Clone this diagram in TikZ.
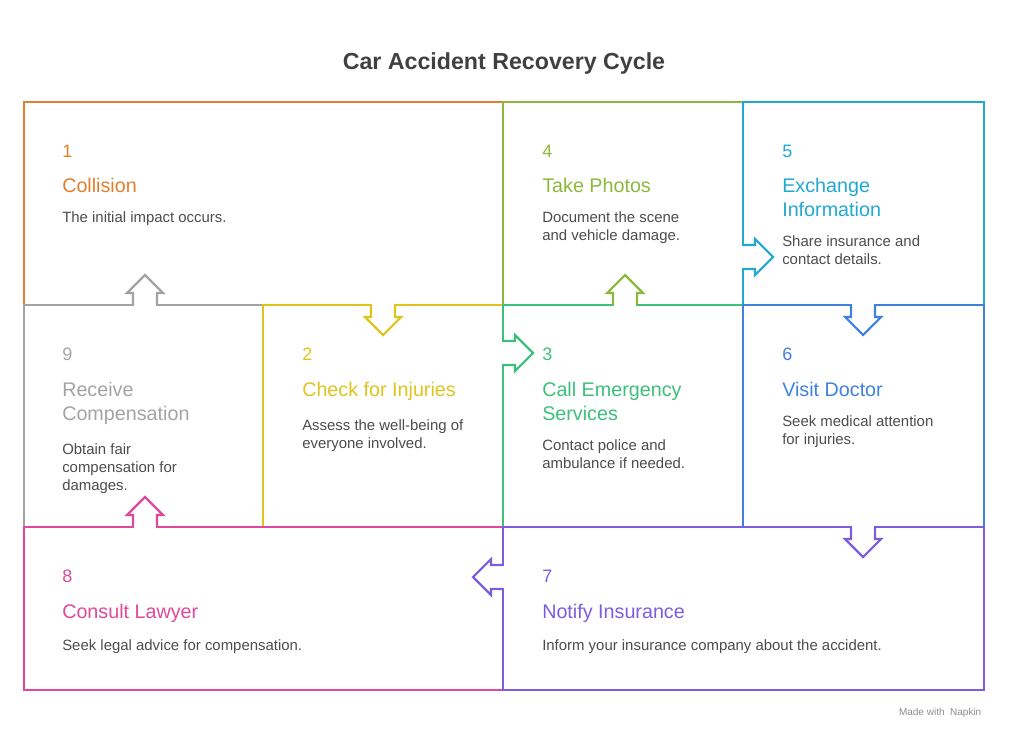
\documentclass[tikz,border=0pt]{standalone}
\usepackage{fontspec}
\setmainfont{Liberation Sans}
\usepackage{xcolor}
\usetikzlibrary{positioning}

\definecolor{cOrange}{HTML}{E0802E}
\definecolor{cOlive}{HTML}{8CB83C}
\definecolor{cCyan}{HTML}{22A8D2}
\definecolor{cGray}{HTML}{A3A3A3}
\definecolor{cYellow}{HTML}{DEC41E}
\definecolor{cGreen}{HTML}{3CC07C}
\definecolor{cBlue}{HTML}{3F80E0}
\definecolor{cPink}{HTML}{E0489C}
\definecolor{cPurple}{HTML}{7D5CE0}

\tikzset{
  box/.style={line width=1.6pt},
  num/.style={anchor=base west, inner sep=0pt, font=\fontsize{13.5}{16}\selectfont},
  head/.style={anchor=north west, inner sep=0pt, align=left, font=\fontsize{14.8}{18}\selectfont},
  body/.style={inner sep=0pt, align=left, text=black!70, font=\fontsize{11.2}{13.5}\selectfont},
}

% notch arrow sitting on a box edge
\newcommand{\notch}[3]{%
  \begin{scope}[shift={#2}, rotate=#3]
    \draw[white, line width=2.4pt] (0,-11) -- (0,11);
    \draw[#1, line width=1.6pt, line join=miter]
      (0,-12) -- (12,-12) -- (12,-18) -- (30,0) -- (12,18) -- (12,12) -- (0,12);
  \end{scope}}

\begin{document}
\begin{tikzpicture}[x=0.75pt, y=-0.75pt]
\useasboundingbox (0,0) rectangle (1009,738);

\node[font=\bfseries\fontsize{17.4}{20}\selectfont, text=black!75] (title) at (504,64) {Car Accident Recovery Cycle};

% boxes
\draw[box, cOrange] (24,102) rectangle (503,305);
\draw[box, cOlive] (503,102) rectangle (743,305);
\draw[box, cCyan] (743,102) rectangle (984,305);
\draw[box, cGray] (24,305) rectangle (263,527);
\draw[box, cYellow] (263,305) rectangle (503,527);
\draw[box, cGreen] (503,305) rectangle (743,527);
\draw[box, cBlue] (743,305) rectangle (984,527);
\draw[box, cPink] (24,527) rectangle (503,690);
\draw[box, cPurple] (503,527) rectangle (984,690);

% arrows between steps
\notch{cYellow}{(383,305)}{-90}
\notch{cGreen}{(503,353)}{0}
\notch{cOlive}{(625,305)}{90}
\notch{cCyan}{(743,257)}{0}
\notch{cBlue}{(863,305)}{-90}
\notch{cPurple}{(863,527)}{-90}
\notch{cPurple}{(503,577)}{180}
\notch{cPink}{(145,527)}{90}
\notch{cGray}{(145,305)}{90}

% step texts
\node[num, text=cOrange] (n1) at (62,157) {1};
\node[head, text=cOrange] (h1) at (62,178) {Collision};
\node[body, below=14pt of h1.south west, anchor=north west] (b1) {The initial impact occurs.};

\node[num, text=cOlive] (n4) at (542,157) {4};
\node[head, text=cOlive] (h4) at (542,178) {Take Photos};
\node[body, below=14pt of h4.south west, anchor=north west] (b4) {Document the scene\\and vehicle damage.};

\node[num, text=cCyan] (n5) at (782,157) {5};
\node[head, text=cCyan] (h5) at (782,178) {Exchange\\Information};
\node[body, below=14pt of h5.south west, anchor=north west] (b5) {Share insurance and\\contact details.};

\node[num, text=cGray] (n9) at (62,360) {9};
\node[head, text=cGray] (h9) at (62,382) {Receive\\Compensation};
\node[body, below=14pt of h9.south west, anchor=north west] (b9) {Obtain fair\\compensation for\\damages.};

\node[num, text=cYellow] (n2) at (302,360) {2};
\node[head, text=cYellow] (h2) at (302,382) {Check for Injuries};
\node[body, below=14pt of h2.south west, anchor=north west] (b2) {Assess the well-being of\\everyone involved.};

\node[num, text=cGreen] (n3) at (542,360) {3};
\node[head, text=cGreen] (h3) at (542,382) {Call Emergency\\Services};
\node[body, below=14pt of h3.south west, anchor=north west] (b3) {Contact police and\\ambulance if needed.};

\node[num, text=cBlue] (n6) at (782,360) {6};
\node[head, text=cBlue] (h6) at (782,382) {Visit Doctor};
\node[body, below=14pt of h6.south west, anchor=north west] (b6) {Seek medical attention\\for injuries.};

\node[num, text=cPink] (n8) at (62,582) {8};
\node[head, text=cPink] (h8) at (62,604) {Consult Lawyer};
\node[body, below=12pt of h8.south west, anchor=north west] (b8) {Seek legal advice for compensation.};

\node[num, text=cPurple] (n7) at (542,582) {7};
\node[head, text=cPurple] (h7) at (542,604) {Notify Insurance};
\node[body, below=12pt of h7.south west, anchor=north west] (b7) {Inform your insurance company about the accident.};

\node[anchor=east, text=black!45, font=\fontsize{7.5}{9}\selectfont] (mark) at (986,713) {Made with \ Napkin};
\end{tikzpicture}
\end{document}
